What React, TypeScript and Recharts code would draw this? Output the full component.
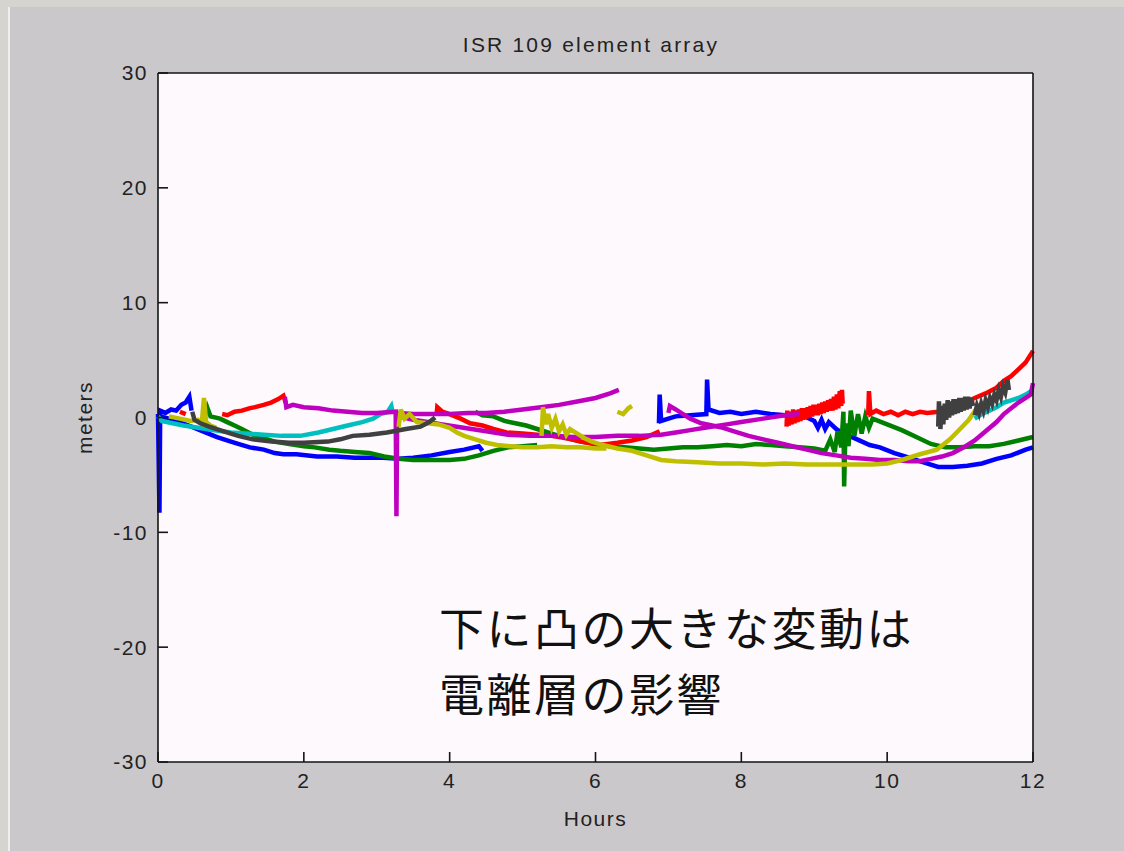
import React from 'react';
import { LineChart, Line, XAxis, YAxis, CartesianGrid } from 'recharts';

type Pt = [number, number];

const HOUR_TICKS = [0, 2, 4, 6, 8, 10, 12];
const METER_TICKS = [-30, -20, -10, 0, 10, 20, 30];

// [hours, meters], one array per visible trace segment
const blueHump: Pt[] = [[0, 0.3], [0.02, -8.3], [0.03, 0.6], [0.1, 0.4], [0.18, 0.7], [0.25, 0.6], [0.32, 1.1], [0.38, 1.3], [0.43, 1.8], [0.46, 0.6]];
const blueMain: Pt[] = [[0.03, 0.1], [0.15, -0.1], [0.34, -0.5], [0.5, -0.9], [0.65, -1.3], [0.81, -1.7], [1.0, -2.1], [1.1, -2.3], [1.26, -2.6], [1.45, -2.8], [1.6, -3.1], [1.72, -3.2], [1.9, -3.2], [2.18, -3.4], [2.45, -3.4], [2.7, -3.5], [3.09, -3.5], [3.3, -3.6], [3.5, -3.5], [3.75, -3.3], [4.0, -3.0], [4.2, -2.8], [4.4, -2.5], [4.45, -2.9]];
const blueLate: Pt[] = [[6.87, -0.5], [6.88, 2.0], [6.9, -0.3], [7.0, -0.1], [7.1, 0.1], [7.3, 0.2], [7.52, 0.3], [7.53, 3.3], [7.55, 0.7], [7.7, 0.4], [7.85, 0.5], [8.0, 0.3], [8.2, 0.5], [8.4, 0.3], [8.6, 0.2], [8.8, 0.3], [9.0, -0.3], [9.05, -0.9], [9.1, -0.2], [9.15, -1.0], [9.2, -0.4], [9.3, -1.0], [9.4, -1.4], [9.55, -1.8], [9.76, -2.4], [9.9, -2.6], [10.1, -3.1], [10.3, -3.5], [10.5, -3.9], [10.7, -4.3], [10.9, -4.3], [11.1, -4.2], [11.3, -4.0], [11.5, -3.6], [11.7, -3.3], [11.9, -2.8], [12, -2.6]];

const greenEarly: Pt[] = [[0.66, 0.2], [0.68, 0.8], [0.72, 0.1], [0.85, -0.1], [0.95, -0.4], [1.05, -0.7], [1.15, -1.0], [1.3, -1.5], [1.45, -1.8], [1.6, -2.1], [1.8, -2.3], [2.0, -2.5], [2.15, -2.6], [2.35, -2.8], [2.5, -2.9], [2.7, -3.0], [2.9, -3.1], [3.1, -3.4], [3.3, -3.6], [3.5, -3.7], [3.7, -3.7], [4.0, -3.7], [4.2, -3.6], [4.4, -3.3], [4.6, -2.9], [4.8, -2.6], [5.0, -2.5], [5.2, -2.4]];
const greenLate: Pt[] = [[4.35, 0.5], [4.45, 0.2], [4.6, 0.1], [4.75, -0.3], [4.9, -0.5], [5.05, -0.7], [5.2, -1.0], [5.4, -1.4], [5.6, -1.8], [5.8, -2.1], [6.0, -2.3], [6.2, -2.5], [6.4, -2.6], [6.6, -2.7], [6.8, -2.8], [7.0, -2.7], [7.2, -2.6], [7.4, -2.6], [7.6, -2.5], [7.8, -2.4], [8.0, -2.5], [8.2, -2.3], [8.4, -2.4], [8.6, -2.5], [8.8, -2.6], [9.0, -2.7], [9.15, -2.9], [9.22, -1.9], [9.28, -3.0], [9.32, -1.2], [9.37, -2.6], [9.4, 0.5], [9.41, -6.0], [9.43, -0.5], [9.47, -2.5], [9.5, 0.6], [9.55, -1.6], [9.6, 0.3], [9.65, -1.4], [9.7, 0.1], [9.75, -0.9], [9.8, -0.1], [10.0, -0.6], [10.2, -1.1], [10.4, -1.7], [10.6, -2.3], [10.8, -2.6], [11.0, -2.6], [11.2, -2.5], [11.4, -2.5], [11.6, -2.3], [11.8, -2.0], [12, -1.7]];

const redDot: Pt[] = [[0.3, 0.5], [0.38, 0.3]];
const redRise: Pt[] = [[0.88, 0.3], [0.95, 0.2], [1.05, 0.5], [1.15, 0.6], [1.25, 0.8], [1.33, 0.9], [1.45, 1.1], [1.55, 1.3], [1.65, 1.6], [1.72, 1.9], [1.75, 1.3]];
const redMid: Pt[] = [[3.82, 0.2], [3.83, 0.9], [3.9, 0.5], [4.0, 0.3], [4.15, -0.1], [4.28, -0.5], [4.45, -0.7], [4.6, -1.0], [4.78, -1.3], [5.0, -1.4], [5.2, -1.5], [5.4, -1.6], [5.6, -1.8], [5.8, -2.1], [6.06, -2.4], [6.3, -2.2], [6.5, -2.0], [6.7, -1.7], [6.88, -1.2]];
const redNoisy: Pt[] = [[8.62, -0.8], [8.63, 0.6], [8.65, -0.7], [8.67, 0.5], [8.69, -0.6], [8.71, 0.7], [8.73, -0.5], [8.75, 0.6], [8.77, -0.4], [8.79, 0.7], [8.81, -0.3], [8.83, 0.8], [8.85, -0.2], [8.87, 0.8], [8.89, -0.1], [8.91, 0.9], [8.93, 0.0], [8.95, 1.0], [8.97, 0.1], [8.99, 1.1], [9.01, 0.2], [9.03, 1.1], [9.05, 0.2], [9.07, 1.2], [9.09, 0.3], [9.11, 1.3], [9.13, 0.4], [9.15, 1.4], [9.17, 0.5], [9.19, 1.5], [9.21, 0.6], [9.23, 1.6], [9.25, 0.6], [9.27, 1.8], [9.29, 0.7], [9.31, 2.0], [9.33, 0.8], [9.35, 2.3], [9.37, 1.0], [9.38, 2.4], [9.39, 1.2]];
const redLate: Pt[] = [[9.74, 0.2], [9.75, 2.3], [9.77, 0.3], [9.85, 0.6], [9.95, 0.3], [10.05, 0.5], [10.15, 0.2], [10.25, 0.5], [10.35, 0.3], [10.45, 0.5], [10.55, 0.4], [10.7, 0.5], [10.85, 0.8], [11.0, 1.1], [11.1, 1.4], [11.2, 1.7], [11.35, 2.1], [11.5, 2.6], [11.6, 3.2], [11.7, 3.6], [11.8, 4.2], [11.9, 4.8], [12, 5.8]];

const cyanEarly: Pt[] = [[0, 0.1], [0.05, -0.3], [0.2, -0.5], [0.35, -0.7], [0.55, -0.9], [0.75, -1.1], [1.0, -1.3], [1.2, -1.4], [1.45, -1.5], [1.7, -1.6], [1.95, -1.6], [2.2, -1.3], [2.4, -1.0], [2.6, -0.7], [2.8, -0.4], [2.95, -0.1], [3.05, 0.3], [3.15, 0.5], [3.2, 1.0], [3.22, 0.4]];
const cyanLate: Pt[] = [[11.2, -0.1], [11.3, 0.3], [11.4, 0.6], [11.5, 0.9], [11.6, 1.3], [11.7, 1.5], [11.8, 1.7], [11.9, 2.0], [12, 2.4]];

const magentaTop: Pt[] = [[1.74, 1.8], [1.76, 0.9], [1.85, 1.1], [2.0, 0.9], [2.2, 0.8], [2.4, 0.6], [2.6, 0.5], [2.8, 0.4], [3.0, 0.4], [3.26, 0.5], [3.27, -8.6], [3.28, 0.4], [3.5, 0.3], [3.75, 0.3], [4.0, 0.3], [4.25, 0.4], [4.5, 0.4], [4.75, 0.5], [5.0, 0.7], [5.25, 0.9], [5.5, 1.1], [5.75, 1.4], [6.0, 1.7], [6.2, 2.1], [6.32, 2.4]];
const magentaLow: Pt[] = [[3.3, 0.1], [3.5, -0.2], [3.7, -0.4], [3.9, -0.6], [4.1, -0.8], [4.3, -1.0], [4.5, -1.2], [4.8, -1.5], [5.1, -1.6], [5.4, -1.6], [5.7, -1.7], [6.0, -1.7], [6.3, -1.6], [6.6, -1.6], [6.9, -1.5], [7.1, -1.3], [7.3, -1.1], [7.5, -0.9], [7.8, -0.6], [8.0, -0.4], [8.3, -0.1], [8.6, 0.2], [8.8, 0.3]];
const magentaLate: Pt[] = [[7.0, 0.4], [7.02, 1.0], [7.1, 0.7], [7.2, 0.3], [7.3, -0.1], [7.45, -0.5], [7.6, -0.7], [7.75, -0.9], [7.9, -1.2], [8.1, -1.6], [8.3, -1.9], [8.5, -2.2], [8.7, -2.5], [8.9, -2.8], [9.1, -3.1], [9.3, -3.3], [9.5, -3.5], [9.7, -3.6], [9.9, -3.7], [10.1, -3.7], [10.3, -3.8], [10.45, -3.8], [10.6, -3.6], [10.75, -3.4], [10.9, -3.1], [11.05, -2.6], [11.2, -2.0], [11.35, -1.2], [11.5, -0.4], [11.6, 0.3], [11.7, 0.8], [11.8, 1.3], [11.9, 1.7], [11.97, 2.0], [12, 3.0]];

const oliveStart: Pt[] = [[0.15, 0.1], [0.3, -0.1], [0.45, -0.3], [0.55, -0.2], [0.6, -0.5], [0.63, 1.7], [0.66, -0.4], [0.72, -0.7], [0.8, -0.9]];
const oliveMid: Pt[] = [[3.3, -0.8], [3.33, 0.7], [3.38, -0.1], [3.45, 0.3], [3.55, -0.4], [3.7, -0.5], [3.85, -0.6], [4.0, -0.9], [4.1, -1.3], [4.2, -1.6], [4.35, -1.9], [4.5, -2.2], [4.65, -2.4], [4.83, -2.5], [5.0, -2.6], [5.2, -2.6], [5.4, -2.5], [5.6, -2.6], [5.8, -2.6], [6.0, -2.7], [6.15, -2.7]];
const oliveLate: Pt[] = [[5.26, -1.6], [5.28, 0.9], [5.32, -0.6], [5.35, 0.3], [5.4, -0.9], [5.45, -0.1], [5.5, -1.2], [5.55, -0.6], [5.6, -1.5], [5.65, -1.0], [5.75, -1.4], [5.85, -1.8], [5.95, -2.1], [6.1, -2.4], [6.3, -2.7], [6.5, -2.9], [6.7, -3.3], [6.9, -3.7], [7.1, -3.8], [7.4, -3.9], [7.7, -4.0], [8.0, -4.0], [8.3, -4.1], [8.6, -4.0], [8.9, -4.1], [9.2, -4.1], [9.5, -4.1], [9.8, -4.1], [10.0, -4.0], [10.2, -3.7], [10.45, -3.2], [10.68, -2.8], [10.86, -1.9], [11.0, -1.0], [11.12, -0.2], [11.27, 1.2]];
const oliveBlob: Pt[] = [[6.3, 0.5], [6.38, 0.3], [6.45, 0.8], [6.5, 1.0]];

const grayEarly: Pt[] = [[0.47, 0.5], [0.5, -0.2], [0.58, -0.5], [0.7, -0.8], [0.85, -1.1], [1.0, -1.4], [1.1, -1.6], [1.3, -1.9], [1.56, -2.1], [1.8, -2.2], [2.0, -2.2], [2.33, -2.1], [2.5, -1.9], [2.67, -1.6], [2.9, -1.5], [3.14, -1.3], [3.4, -1.0], [3.6, -0.8], [3.72, -0.4], [3.8, 0.0]];
const grayNoisy: Pt[] = [[10.7, -0.8], [10.71, 1.4], [10.73, -1.0], [10.75, 1.0], [10.77, -0.6], [10.79, 1.2], [10.81, -0.2], [10.83, 1.5], [10.85, 0.0], [10.87, 1.4], [10.89, 0.2], [10.91, 1.6], [10.93, 0.3], [10.95, 1.6], [10.97, 0.4], [10.99, 1.7], [11.01, 0.5], [11.03, 1.7], [11.05, 0.6], [11.07, 1.8], [11.09, 0.7], [11.11, 1.8], [11.13, 0.8], [11.15, 1.7], [11.18, 1.0]];
const grayLate: Pt[] = [[11.2, 0.2], [11.23, 1.0], [11.26, 0.4], [11.29, 1.2], [11.32, 0.6], [11.35, 1.5], [11.38, 0.9], [11.41, 1.7], [11.44, 1.2], [11.47, 2.0], [11.5, 1.5], [11.53, 2.4], [11.56, 1.8], [11.59, 2.7], [11.62, 2.2], [11.65, 3.3], [11.67, 2.4]];

const BLUE = '#0000ff';
const GREEN = '#008000';
const RED = '#ff0000';
const CYAN = '#00bfbf';
const MAGENTA = '#bf00bf';
const OLIVE = '#bfbf00';
const GRAY = '#404040';

// matlab plot order: b g r c m y k
const SERIES: { id: string; pts: Pt[]; color: string }[] = [
  { id: 'blueHump', pts: blueHump, color: BLUE },
  { id: 'blueMain', pts: blueMain, color: BLUE },
  { id: 'blueLate', pts: blueLate, color: BLUE },
  { id: 'greenEarly', pts: greenEarly, color: GREEN },
  { id: 'greenLate', pts: greenLate, color: GREEN },
  { id: 'redDot', pts: redDot, color: RED },
  { id: 'redRise', pts: redRise, color: RED },
  { id: 'redMid', pts: redMid, color: RED },
  { id: 'redNoisy', pts: redNoisy, color: RED },
  { id: 'redLate', pts: redLate, color: RED },
  { id: 'cyanEarly', pts: cyanEarly, color: CYAN },
  { id: 'cyanLate', pts: cyanLate, color: CYAN },
  { id: 'magentaTop', pts: magentaTop, color: MAGENTA },
  { id: 'magentaLow', pts: magentaLow, color: MAGENTA },
  { id: 'magentaLate', pts: magentaLate, color: MAGENTA },
  { id: 'oliveStart', pts: oliveStart, color: OLIVE },
  { id: 'oliveMid', pts: oliveMid, color: OLIVE },
  { id: 'oliveLate', pts: oliveLate, color: OLIVE },
  { id: 'oliveBlob', pts: oliveBlob, color: OLIVE },
  { id: 'grayEarly', pts: grayEarly, color: GRAY },
  { id: 'grayNoisy', pts: grayNoisy, color: GRAY },
  { id: 'grayLate', pts: grayLate, color: GRAY },
];

const toRows = (pts: Pt[]) => pts.map(([h, v]) => ({ h, v }));

const FONT = '"Liberation Sans", Arial, sans-serif';
const tickStyle = { fontSize: 21, fill: '#222', fontFamily: FONT, letterSpacing: 1.5 };
const frame = { stroke: '#151515', strokeWidth: 1.6 };
const noLabel = () => <g />;
// CJK line boxes are tall, so each note line gets its own 66px row
const noteStyle: React.CSSProperties = {
  position: 'absolute', left: 439, height: 66, fontFamily: '"Noto Sans CJK JP", sans-serif',
  fontSize: 45, lineHeight: '66px', letterSpacing: 2.5, color: '#111', whiteSpace: 'nowrap',
};

export default function App() {
  return (
    <div style={{ position: 'absolute', left: 0, top: 0, width: 1124, height: 851, background: '#d6d4ce', overflow: 'hidden' }}>
      <div style={{ position: 'absolute', left: 8, top: 7, right: 0, bottom: 0, background: '#cbc8cc', borderLeft: '2px solid #eeeeee' }} />
      <div
        style={{
          position: 'absolute', left: 391, width: 400, top: 32, textAlign: 'center',
          fontFamily: FONT, fontSize: 21, lineHeight: '26px', letterSpacing: 2.2, color: '#222',
        }}
      >
        ISR 109 element array
      </div>
      <div style={{ position: 'absolute', left: 0, top: 0 }}>
        <LineChart width={1124} height={851} margin={{ top: 72, right: 90, bottom: 24, left: 78 }}>
          <CartesianGrid horizontal={false} vertical={false} fill="#fdf9fd" />
          <XAxis
            dataKey="h"
            type="number"
            domain={[0, 12]}
            ticks={HOUR_TICKS}
            allowDuplicatedCategory={false}
            height={65}
            tickSize={-10}
            tickMargin={21}
            axisLine={frame}
            tickLine={frame}
            tick={tickStyle}
            label={{ value: 'Hours', position: 'insideBottom', offset: 1, style: { ...tickStyle, textAnchor: 'middle' } }}
          />
          <XAxis
            xAxisId="top"
            orientation="top"
            type="number"
            domain={[0, 12]}
            ticks={HOUR_TICKS}
            height={1}
            tickSize={-10}
            axisLine={frame}
            tickLine={frame}
            tick={noLabel}
          />
          <YAxis
            type="number"
            domain={[-30, 30]}
            ticks={METER_TICKS}
            width={80}
            tickSize={-10}
            tickMargin={20}
            axisLine={frame}
            tickLine={frame}
            tick={tickStyle}
            label={{ value: 'meters', angle: -90, position: 'insideLeft', offset: 7, style: { ...tickStyle, textAnchor: 'middle' } }}
          />
          <YAxis
            yAxisId="right"
            orientation="right"
            type="number"
            domain={[-30, 30]}
            ticks={METER_TICKS}
            width={1}
            tickSize={-10}
            axisLine={frame}
            tickLine={frame}
            tick={noLabel}
          />
          {SERIES.map((s) => (
            <Line
              key={s.id}
              data={toRows(s.pts)}
              dataKey="v"
              type="linear"
              stroke={s.color}
              strokeWidth={4.5}
              dot={false}
              activeDot={false}
              isAnimationActive={false}
            />
          ))}
        </LineChart>
      </div>
      <div style={{ ...noteStyle, top: 594 }}>下に凸の大きな変動は</div>
      <div style={{ ...noteStyle, top: 660 }}>電離層の影響</div>
    </div>
  );
}
